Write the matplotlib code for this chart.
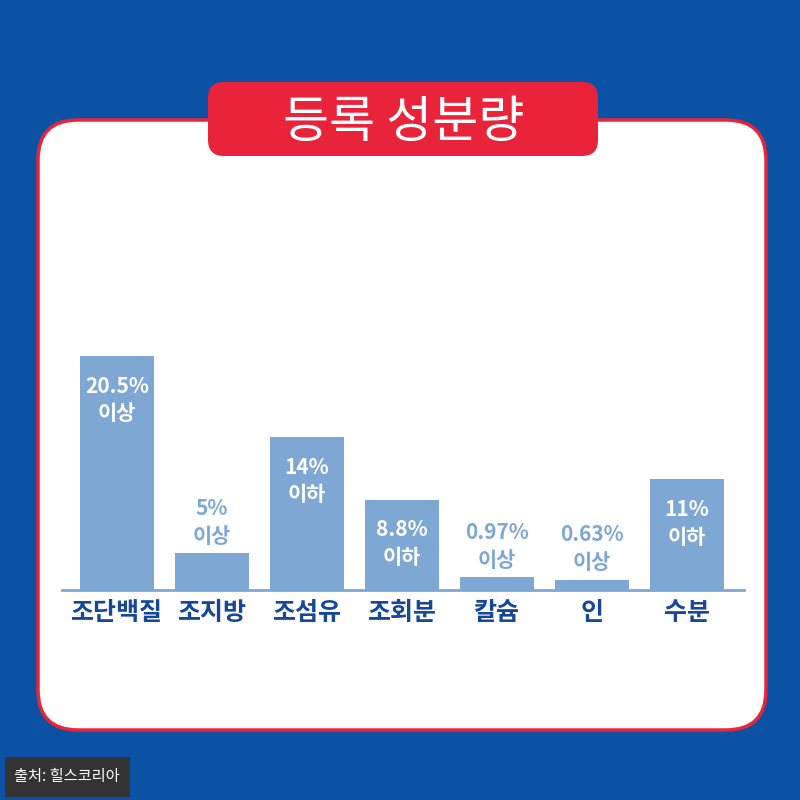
import matplotlib.pyplot as plt
from matplotlib.patches import FancyBboxPatch

plt.rcParams['font.family'] = ['Noto Sans CJK KR', 'DejaVu Sans']

# 데이터
categories = ['조단백질', '조지방', '조섬유', '조회분', '칼슘', '인', '수분']
labels = ['20.5%\n이상', '5%\n이상', '14%\n이하', '8.8%\n이하', '0.97%\n이상', '0.63%\n이상', '11%\n이하']
# 그림에서 읽은 막대 높이 (조단백질 = 20.5 기준)
heights = [20.5, 3.2, 13.4, 7.9, 1.1, 0.9, 9.7]
inside = [True, False, True, True, False, False, True]

bg_blue = '#0b52a5'
red = '#e8233a'
bar_color = '#7ea8d3'
dark_blue = '#16479a'

fig = plt.figure(figsize=(8, 8), dpi=100)
fig.patch.set_facecolor(bg_blue)

# 배경 장식 (픽셀 좌표)
bg = fig.add_axes([0, 0, 1, 1])
bg.set_xlim(0, 800)
bg.set_ylim(800, 0)
bg.axis('off')

panel = FancyBboxPatch((38, 120), 728, 610, boxstyle='round,pad=0,rounding_size=40',
                       facecolor='white', edgecolor=red, linewidth=2.5)
bg.add_patch(panel)
tab = FancyBboxPatch((208, 82), 390, 74, boxstyle='round,pad=0,rounding_size=16',
                     facecolor=red, edgecolor='none')
bg.add_patch(tab)
bg.text(404, 123, '등록 성분량', color='white', fontsize=36, ha='center', va='center')

src = FancyBboxPatch((5, 757), 125, 40, boxstyle='square,pad=0',
                     facecolor='#333333', edgecolor='none')
bg.add_patch(src)
bg.text(67, 777, '출처: 힐스코리아', color='white', fontsize=11, ha='center', va='center')

# 막대 차트
ax = fig.add_axes([62 / 800, (800 - 590) / 800, (744 - 62) / 800, 260 / 800])
ax.set_facecolor('none')
x = list(range(len(categories)))
ax.bar(x, heights, width=0.78, color=bar_color, zorder=2)
ax.set_xlim(-0.579, 6.6)
ax.set_ylim(0, 260 / 11.41)

for s in ['top', 'right', 'left']:
    ax.spines[s].set_visible(False)
ax.spines['bottom'].set_color(bar_color)
ax.spines['bottom'].set_linewidth(2)
ax.set_yticks([])
ax.set_xticks(x)
ax.set_xticklabels(categories, fontsize=18, fontweight='bold', color=dark_blue)
ax.tick_params(axis='x', length=0, pad=8)

for xi, h, lab, ins in zip(x, heights, labels, inside):
    if ins:
        ax.annotate(lab, (xi, h), xytext=(0, -14), textcoords='offset points',
                    ha='center', va='top', color='white', fontsize=15,
                    fontweight='bold', linespacing=1.4)
    else:
        ax.annotate(lab, (xi, h), xytext=(0, 5), textcoords='offset points',
                    ha='center', va='bottom', color=bar_color, fontsize=15,
                    fontweight='bold', linespacing=1.4)

fig.savefig('out.png', dpi=100, facecolor=fig.get_facecolor())
